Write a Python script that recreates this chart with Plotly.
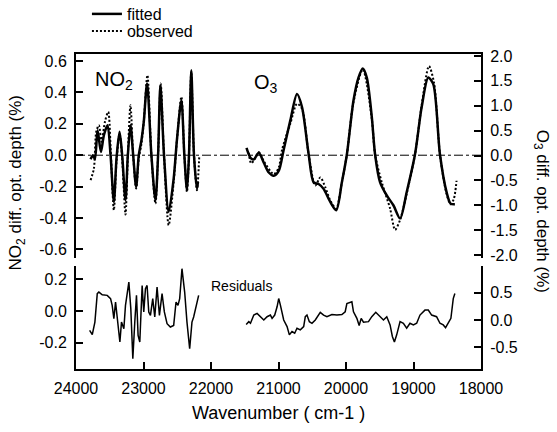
import plotly.graph_objects as go

# ---------------- data (wavenumber cm-1, optical depth %) ----------------
no2_fit_wn = [23784, 23749, 23720, 23680, 23631, 23587, 23533, 23488, 23439, 23400,
              23355, 23316, 23267, 23232, 23193, 23153, 23109, 23070, 23030, 22996,
              22947, 22883, 22823, 22784, 22750, 22696, 22627, 22553, 22503, 22439,
              22395, 22356, 22326, 22292, 22252, 22208, 22193]
no2_fit = [-0.025, 0.0, -0.025, 0.159, 0.021, 0.127, 0.191, 0.0, -0.297, -0.021,
           0.149, 0.0, -0.287, 0.0, 0.191, 0.0, -0.202, 0.0, 0.096, 0.212,
           0.457, 0.0, -0.287, 0.0, 0.446, 0.0, -0.361, -0.149, 0.106, 0.350,
           0.0, -0.223, 0.0, 0.541, 0.0, -0.212, -0.17]

no2_obs_wn = [23784, 23735, 23700, 23661, 23621, 23572, 23523, 23483, 23439, 23400,
              23355, 23316, 23267, 23232, 23193, 23153, 23109, 23070, 23030, 22996,
              22942, 22883, 22823, 22784, 22745, 22696, 22627, 22553, 22503, 22439,
              22395, 22356, 22326, 22292, 22252, 22208, 22173]
no2_obs = [-0.159, -0.085, 0.149, 0.191, 0.085, 0.212, 0.276, 0.0, -0.350, -0.042,
           0.138, -0.021, -0.378, 0.0, 0.318, 0.0, -0.212, -0.021, 0.074, 0.212,
           0.510, 0.0, -0.308, 0.0, 0.457, 0.0, -0.446, -0.170, 0.106, 0.372,
           0.0, -0.233, 0.0, 0.531, 0.0, -0.223, 0.0]

o3_fit_wn = [21474, 21415, 21366, 21292, 21218, 21144, 21070, 20997, 20923, 20824,
             20726, 20652, 20553, 20479, 20406, 20332, 20233, 20145, 20061, 19987,
             19889, 19815, 19751, 19692, 19618, 19569, 19495, 19396, 19298, 19199,
             19101, 18978, 18879, 18781, 18707, 18608, 18510, 18451, 18387]
o3_fit = [0.151, -0.046, -0.079, 0.053, -0.145, -0.342, -0.408, -0.309, 0.118, 0.711,
          1.237, 0.974, 0.020, -0.539, -0.572, -0.671, -0.934, -1.099, -0.539, 0.020,
          1.105, 1.566, 1.750, 1.566, 0.776, 0.020, -0.539, -0.803, -1.0, -1.263,
          -0.737, 0.020, 0.974, 1.566, 1.434, 0.020, -0.737, -0.967, -0.980]

o3_obs_wn = [21440, 21405, 21356, 21292, 21218, 21070, 20997, 20947, 20824, 20726,
             20652, 20553, 20455, 20381, 20307, 20233, 20145, 20061, 19987, 19889,
             19751, 19618, 19569, 19470, 19347, 19273, 19199, 19101, 18978, 18879,
             18771, 18697, 18608, 18510, 18451, 18402, 18362]
o3_obs = [0.053, -0.158, -0.079, 0.066, -0.112, -0.375, -0.243, 0.118, 0.645, 1.039,
          0.941, 0.020, -0.605, -0.441, -0.638, -0.901, -1.066, -0.539, 0.020, 1.072,
          1.730, 0.743, 0.020, -0.539, -1.066, -1.493, -1.296, -0.770, 0.020, 1.007,
          1.796, 1.467, 0.020, -0.770, -0.980, -0.868, -0.507]

no2_res_wn = [23798, 23759, 23720, 23685, 23661, 23611, 23537, 23488, 23464, 23439,
              23414, 23375, 23350, 23326, 23291, 23267, 23217, 23188, 23158, 23129,
              23104, 23080, 23055, 23020, 22996, 22971, 22947, 22922, 22897, 22863,
              22833, 22799, 22764, 22725, 22691, 22651, 22602, 22553, 22518, 22489,
              22464, 22430, 22390, 22356, 22316, 22282, 22257, 22183]
no2_res = [-0.122, -0.150, -0.070, 0.110, 0.120, 0.103, 0.099, 0.078, 0.036, -0.049,
           0.057, -0.112, -0.196, -0.070, -0.112, 0.036, 0.183, 0.015, -0.302, -0.070,
           0.099, -0.154, -0.196, 0.162, -0.006, 0.141, 0.162, -0.006, -0.028, 0.078,
           -0.038, 0.152, -0.028, 0.110, -0.006, -0.080, -0.101, -0.091, 0.057, 0.036,
           0.078, 0.268, 0.120, -0.070, -0.239, -0.070, -0.038, 0.099]

o3_res_wn = [21479, 21440, 21415, 21366, 21317, 21267, 21218, 21169, 21120, 21095,
             21056, 21021, 20997, 20972, 20923, 20873, 20839, 20800, 20760, 20726,
             20677, 20627, 20603, 20578, 20543, 20504, 20455, 20381, 20332, 20283,
             20209, 20135, 20061, 20012, 19987, 19913, 19889, 19839, 19805, 19775,
             19741, 19667, 19618, 19559, 19495, 19445, 19396, 19347, 19313, 19283,
             19249, 19199, 19150, 19101, 19052, 19002, 18953, 18904, 18830, 18781,
             18731, 18658, 18608, 18559, 18525, 18485, 18446, 18411, 18387]
o3_res = [-0.08, -0.03, -0.06, 0.09, 0.12, 0.06, 0.0, 0.06, 0.09, 0.03,
          0.09, 0.24, 0.39, 0.27, 0.0, -0.12, -0.27, -0.21, -0.24, -0.15,
          -0.18, -0.12, 0.06, 0.09, -0.03, -0.06, 0.0, 0.14, 0.09, 0.06,
          0.10, 0.09, 0.10, 0.15, 0.30, 0.33, 0.15, 0.03, -0.10, 0.03,
          -0.04, -0.03, 0.06, 0.14, 0.06, 0.0, 0.06, -0.09, -0.30, -0.40,
          -0.27, -0.03, -0.06, -0.15, -0.06, -0.09, -0.06, 0.09, 0.18, 0.18,
          0.09, 0.06, -0.06, -0.09, -0.14, -0.06, 0.03, 0.39, 0.48]

x_ticks = [24000, 23000, 22000, 21000, 20000, 19000, 18000]
x_ticktext = ["24000", "23000", "22000", "21000", "20000", "19000", "18000"]
no2_ticks = [-0.6, -0.4, -0.2, 0.0, 0.2, 0.4, 0.6]
no2_ticktext = ["-0.6", "-0.4", "-0.2", "0.0", "0.2", "0.4", "0.6"]
o3_ticks = [-2.0, -1.5, -1.0, -0.5, 0.0, 0.5, 1.0, 1.5, 2.0]
o3_ticktext = ["-2.0", "-1.5", "-1.0", "-0.5", "0.0", "0.5", "1.0", "1.5", "2.0"]
no2_res_ticks = [-0.2, 0.0, 0.2]
no2_res_ticktext = ["-0.2", "0.0", "0.2"]
o3_res_ticks = [-0.5, 0.0, 0.5]
o3_res_ticktext = ["-0.5", "0.0", "0.5"]

# ---------------- figure ----------------
FONT = "Liberation Sans, Arial, Helvetica, sans-serif"
DOT = "2px,2px"
fig = go.Figure()

fig.add_trace(go.Scatter(x=no2_fit_wn, y=no2_fit, xaxis="x2", yaxis="y", mode="lines",
                         line=dict(color="black", width=2.5, shape="spline", smoothing=0.8),
                         name="fitted", legend="legend"))
fig.add_trace(go.Scatter(x=no2_obs_wn, y=no2_obs, xaxis="x2", yaxis="y", mode="lines",
                         line=dict(color="black", width=2, dash=DOT, shape="spline", smoothing=0.8),
                         name="observed", legend="legend2"))
fig.add_trace(go.Scatter(x=o3_fit_wn, y=o3_fit, xaxis="x2", yaxis="y2", mode="lines",
                         line=dict(color="black", width=2.5, shape="spline", smoothing=0.8),
                         showlegend=False))
fig.add_trace(go.Scatter(x=o3_obs_wn, y=o3_obs, xaxis="x2", yaxis="y2", mode="lines",
                         line=dict(color="black", width=2, dash=DOT, shape="spline", smoothing=0.8),
                         showlegend=False))
fig.add_trace(go.Scatter(x=no2_res_wn, y=no2_res, xaxis="x", yaxis="y3", mode="lines",
                         line=dict(color="black", width=1.5), showlegend=False))
fig.add_trace(go.Scatter(x=o3_res_wn, y=o3_res, xaxis="x", yaxis="y4", mode="lines",
                         line=dict(color="black", width=1.5), showlegend=False))

axis_common = dict(showline=True, linecolor="black", linewidth=2, showgrid=False,
                   zeroline=False, ticks="inside", ticklen=7, tickwidth=2,
                   tickcolor="black", tickfont=dict(size=16, color="black", family=FONT))

legend_common = dict(xanchor="left", yanchor="middle", bgcolor="rgba(0,0,0,0)",
                     font=dict(size=16, color="black", family=FONT), itemwidth=30)

fig.update_layout(
    width=557, height=432,
    margin=dict(l=76, r=76, t=54, b=63, autoexpand=False),
    paper_bgcolor="white", plot_bgcolor="white",
    font=dict(family=FONT, color="black"),
    xaxis=dict(domain=[0, 1], anchor="y3", range=[24000, 18000],
               tickmode="array", tickvals=x_ticks, ticktext=x_ticktext,
               ticklabelstandoff=4, **axis_common),
    xaxis2=dict(domain=[0, 1], anchor="y", matches="x", range=[24000, 18000], side="top",
                showline=True, linecolor="black", linewidth=2, showgrid=False,
                zeroline=False, ticks="", showticklabels=False),
    yaxis=dict(domain=[0.3524, 1], anchor="x2", range=[-0.655, 0.645],
               tickmode="array", tickvals=no2_ticks, ticktext=no2_ticktext,
               ticklabelstandoff=4, **axis_common),
    yaxis2=dict(overlaying="y", side="right", anchor="x2", range=[-2.06, 2.04],
                tickmode="array", tickvals=o3_ticks, ticktext=o3_ticktext,
                ticklabelstandoff=4, **axis_common),
    yaxis3=dict(domain=[0, 0.327], anchor="x", range=[-0.367, 0.285],
                tickmode="array", tickvals=no2_res_ticks, ticktext=no2_res_ticktext,
                ticklabelstandoff=4, **axis_common),
    yaxis4=dict(overlaying="y3", side="right", anchor="x", range=[-0.891, 0.982],
                tickmode="array", tickvals=o3_res_ticks, ticktext=o3_res_ticktext,
                ticklabelstandoff=4, **axis_common),
    showlegend=True,
    legend=dict(x=0.027, y=1.127, **legend_common),
    legend2=dict(x=0.027, y=1.073, **legend_common),
)

# zero reference line in the top panel
fig.add_shape(type="line", xref="x2 domain", x0=0, x1=1, yref="y", y0=0, y1=0,
              line=dict(color="black", width=1, dash="dashdot"))

ann_font = dict(family=FONT, color="black")
fig.add_annotation(text="NO<sub>2</sub>", xref="paper", yref="paper", x=0.042, y=0.962,
                   xanchor="left", yanchor="top", showarrow=False, font=dict(size=20, **ann_font))
fig.add_annotation(text="O<sub>3</sub>", xref="paper", yref="paper", x=0.434, y=0.952,
                   xanchor="left", yanchor="top", showarrow=False, font=dict(size=20, **ann_font))
fig.add_annotation(text="Residuals", xref="paper", yref="paper", x=0.328, y=0.263,
                   xanchor="left", yanchor="middle", showarrow=False, font=dict(size=14, **ann_font))
fig.add_annotation(text="Wavenumber ( cm-1 )", xref="paper", yref="paper", x=0.5, y=-0.14,
                   xanchor="center", yanchor="middle", showarrow=False, font=dict(size=18, **ann_font))
fig.add_annotation(text="NO<sub>2</sub> diff. opt. depth (%)", xref="paper", yref="paper",
                   x=-0.145, y=0.59, xanchor="center", yanchor="middle", textangle=-90,
                   showarrow=False, font=dict(size=17, **ann_font))
fig.add_annotation(text="O<sub>3</sub> diff. opt. depth (%)", xref="paper", yref="paper",
                   x=1.15, y=0.50, xanchor="center", yanchor="middle", textangle=90,
                   showarrow=False, font=dict(size=17, **ann_font))

fig.write_html("out.html", config={"displayModeBar": False},
               post_script="document.body.style.margin='0px';document.body.style.overflow='hidden';")
